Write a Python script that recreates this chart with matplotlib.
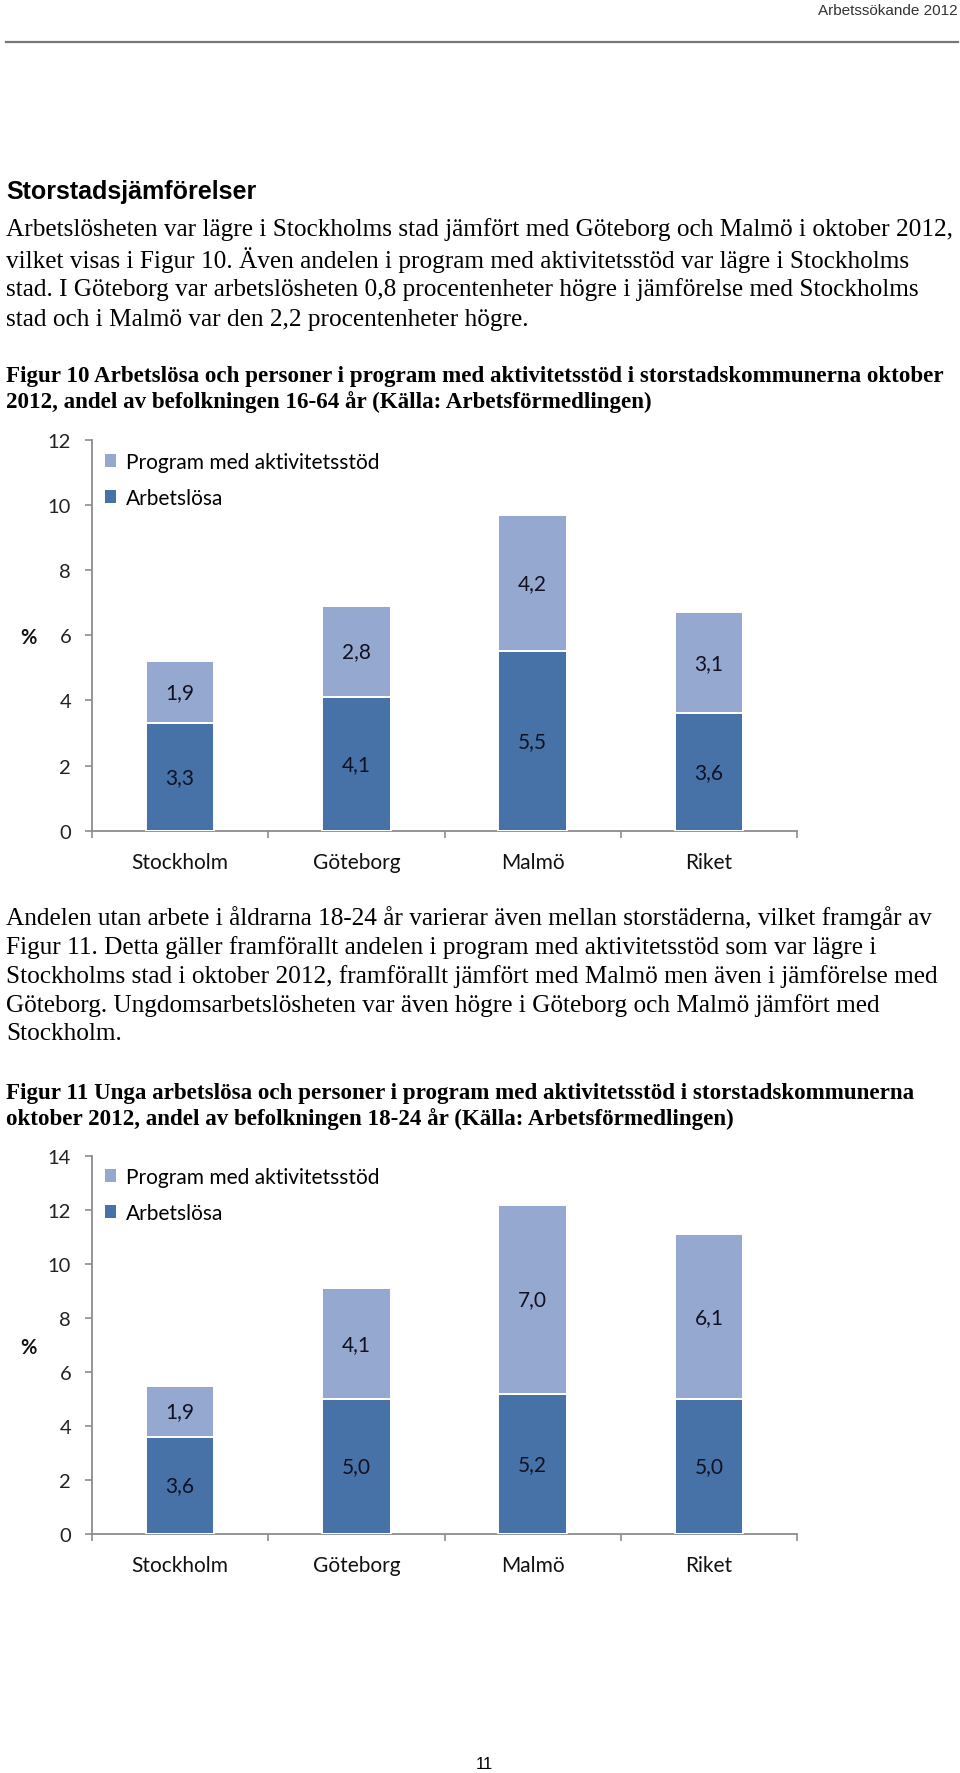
import matplotlib
matplotlib.use("Agg")
import matplotlib.pyplot as plt
from matplotlib.patches import Patch
from matplotlib.lines import Line2D

# ---- data ----
categories = ["Stockholm", "Göteborg", "Malmö", "Riket"]
fig10_arbetslosa = [3.3, 4.1, 5.5, 3.6]
fig10_program = [1.9, 2.8, 4.2, 3.1]
fig11_arbetslosa = [3.6, 5.0, 5.2, 5.0]
fig11_program = [1.9, 4.1, 7.0, 6.1]
fig10_yticks = [0, 2, 4, 6, 8, 10, 12]
fig11_yticks = [0, 2, 4, 6, 8, 10, 12, 14]
legend_labels = ["Program med aktivitetsstöd", "Arbetslösa"]

header = "Arbetssökande 2012"
section_title = "Storstadsjämförelser"
para1 = [
    "Arbetslösheten var lägre i Stockholms stad jämfört med Göteborg och Malmö i oktober 2012,",
    "vilket visas i Figur 10. Även andelen i program med aktivitetsstöd var lägre i Stockholms",
    "stad. I Göteborg var arbetslösheten 0,8 procentenheter högre i jämförelse med Stockholms",
    "stad och i Malmö var den 2,2 procentenheter högre.",
]
caption1 = [
    "Figur 10 Arbetslösa och personer i program med aktivitetsstöd i storstadskommunerna oktober",
    "2012, andel av befolkningen 16-64 år (Källa: Arbetsförmedlingen)",
]
para2 = [
    "Andelen utan arbete i åldrarna 18-24 år varierar även mellan storstäderna, vilket framgår av",
    "Figur 11. Detta gäller framförallt andelen i program med aktivitetsstöd som var lägre i",
    "Stockholms stad i oktober 2012, framförallt jämfört med Malmö men även i jämförelse med",
    "Göteborg. Ungdomsarbetslösheten var även högre i Göteborg och Malmö jämfört med",
    "Stockholm.",
]
caption2 = [
    "Figur 11 Unga arbetslösa och personer i program med aktivitetsstöd i storstadskommunerna",
    "oktober 2012, andel av befolkningen 18-24 år (Källa: Arbetsförmedlingen)",
]
page_number = "11"

# ---- style ----
W, H = 960, 1774
DARK = "#4672A7"
LIGHT = "#95A8D0"
AXC = "#8c8c8c"
CHART_FONT = ["Lato", "DejaVu Sans"]
SERIF = ["Liberation Serif", "DejaVu Serif"]
SANS = ["Liberation Sans", "DejaVu Sans"]
NARROW = ["Liberation Sans Narrow", "Liberation Sans", "DejaVu Sans"]

fig = plt.figure(figsize=(W / 100, H / 100), dpi=100)
fig.patch.set_facecolor("white")


def fx(x):
    return x / W


def fy(y):
    return 1 - y / H


# header
fig.text(fx(958), fy(11), header, ha="right", va="center", fontsize=11,
         family=NARROW, color="#333333")
fig.add_artist(Line2D([fx(6), fx(958)], [fy(43), fy(43)], color="#777777", lw=1.6))

fig.text(fx(6), fy(192), section_title, ha="left", va="center", fontsize=18,
         family=SANS, fontweight="bold", color="black")

for i, line in enumerate(para1):
    fig.text(fx(6), fy(229.5 + i * 30.2), line, ha="left", va="center",
             fontsize=18.2, family=SERIF, color="black")
for i, line in enumerate(caption1):
    fig.text(fx(6), fy(376.5 + i * 26), line, ha="left", va="center",
             fontsize=16.6, family=SERIF, fontweight="bold", color="black")
for i, line in enumerate(para2):
    fig.text(fx(6), fy(918 + i * 29.1), line, ha="left", va="center",
             fontsize=18.2, family=SERIF, color="black")
for i, line in enumerate(caption2):
    fig.text(fx(6), fy(1093 + i * 26), line, ha="left", va="center",
             fontsize=16.6, family=SERIF, fontweight="bold", color="black")

fig.text(fx(484), fy(1765), page_number, ha="center", va="center", fontsize=12,
         family=SANS, color="black")


def draw_chart(y_top, y_bot, ymax, yticks, arb, prog, legend_top, pct_y):
    ax = fig.add_axes([fx(92), fy(y_bot), fx(797) - fx(92), fy(y_top) - fy(y_bot)])
    x = list(range(len(categories)))
    width = 0.39
    ax.bar(x, arb, width=width, color=DARK, edgecolor="white", linewidth=1.4, zorder=3)
    ax.bar(x, prog, width=width, bottom=arb, color=LIGHT, edgecolor="white",
           linewidth=1.4, zorder=3)
    for xi, a, p in zip(x, arb, prog):
        ax.text(xi, a / 2, f"{a:.1f}".replace(".", ","), ha="center", va="center",
                fontsize=15, family=CHART_FONT, color="#111122", zorder=4)
        ax.text(xi, a + p / 2, f"{p:.1f}".replace(".", ","), ha="center", va="center",
                fontsize=15, family=CHART_FONT, color="#111122", zorder=4)
    ax.set_xlim(-0.5, len(categories) - 0.5)
    ax.set_ylim(0, ymax)
    ax.set_yticks(yticks)
    ax.set_yticklabels([str(t) for t in yticks], family=CHART_FONT, fontsize=14.5,
                       color="#222222")
    ax.set_xticks(x)
    ax.set_xticklabels(categories, family=CHART_FONT, fontsize=15, color="#111111")
    ax.set_xticks([i - 0.5 for i in range(len(categories) + 1)], minor=True)
    ax.tick_params(axis="x", which="major", length=0, pad=15)
    ax.tick_params(axis="x", which="minor", length=5, width=1.2, color=AXC,
                   direction="out")
    ax.tick_params(axis="y", which="major", length=5, width=1.2, color=AXC,
                   direction="out", pad=10)
    for s in ["top", "right"]:
        ax.spines[s].set_visible(False)
    for s in ["left", "bottom"]:
        ax.spines[s].set_color(AXC)
        ax.spines[s].set_linewidth(1.3)
    ax.set_facecolor("none")
    handles = [Patch(facecolor=LIGHT, edgecolor="none"),
               Patch(facecolor=DARK, edgecolor="none")]
    fig.legend(handles, legend_labels, loc="upper left",
               bbox_to_anchor=(fx(105), fy(legend_top)), frameon=False,
               prop={"family": CHART_FONT, "size": 15}, handlelength=0.55,
               handleheight=0.55, handletextpad=0.45, labelspacing=0.75,
               borderpad=0, borderaxespad=0)
    fig.text(fx(28), fy(pct_y), "%", ha="center", va="center", fontsize=14.5,
             family=CHART_FONT, fontweight="bold", color="#111111")
    return ax


draw_chart(440.7, 831.7, 12, fig10_yticks, fig10_arbetslosa, fig10_program, 453, 638)
draw_chart(1157, 1535, 14, fig11_yticks, fig11_arbetslosa, fig11_program, 1168, 1348)

fig.savefig("out.png", dpi=100, facecolor="white")
